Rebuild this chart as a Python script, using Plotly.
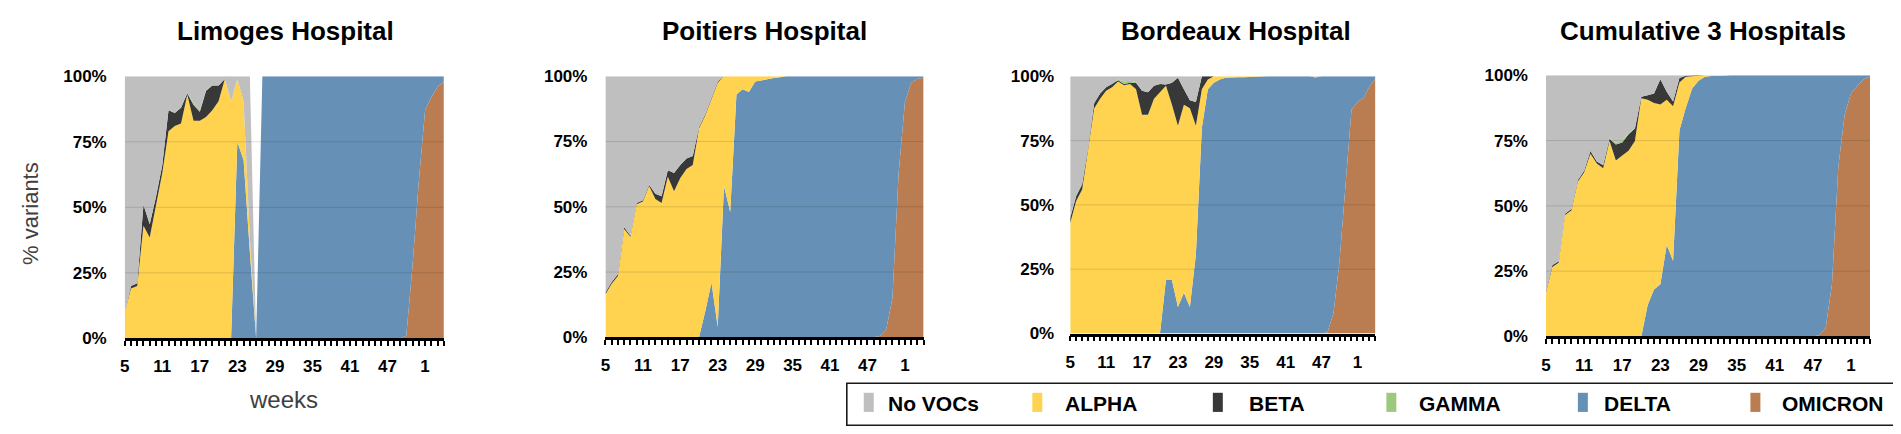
import plotly.graph_objects as go

# ---------------- data ----------------
WEEKS = list(range(5, 53)) + [1, 2, 3, 4]          # ISO weeks 2021 -> 2022
HOSPITALS = ["Limoges Hospital", "Poitiers Hospital", "Bordeaux Hospital", "Cumulative 3 Hospitals"]
VARIANTS = ["No VOCs", "ALPHA", "BETA", "GAMMA", "DELTA", "OMICRON"]
Y_TICKS = [0, 25, 50, 75, 100]
Y_TICK_LABELS = ["0%", "25%", "50%", "75%", "100%"]

# Limoges (% of sequenced samples per week)
LIM_NOVOC = [90.2, 80, 79, 49, 56.5, 46, 34, 13, 14, 12, 6.5, 10.2, 13, 5.2, 3.5, 3.5, 1, 9.5, 1, 9.5,
             62, 0, 0, 0, 0, 0, 0, 0, 0, 0, 0, 0, 0, 0, 0, 0, 0, 0, 0, 0,
             0, 0, 0, 0, 0, 0, 0, 0, 0, 0, 0, 0]
LIM_ALPHA = [9.8, 19, 20, 43, 38.5, 51, 63, 79, 81, 82, 93, 83, 83, 84.5, 87, 90.5, 99, 90.5, 24, 22.5,
             5, 0, 0, 0, 0, 0, 0, 0, 0, 0, 0, 0, 0, 0, 0, 0, 0, 0, 0, 0,
             0, 0, 0, 0, 0, 0, 0, 0, 0, 0, 0, 0]
LIM_BETA = [0, 1, 1, 8, 5, 3, 3, 8, 5, 6, 0.5, 6, 3.5, 10, 9.5, 6, 0, 0, 0, 0,
            0, 0, 0, 0, 0, 0, 0, 0, 0, 0, 0, 0, 0, 0, 0, 0, 0, 0, 0, 0,
            0, 0, 0, 0, 0, 0, 0, 0, 0, 0, 0, 0]
LIM_GAMMA = [0, 0, 0, 0, 0, 0, 0, 0, 0, 0, 0, 0.8, 0.5, 0.3, 0, 0, 0, 0, 0, 0,
             0, 0, 0, 0, 0, 0, 0, 0, 0, 0, 0, 0, 0, 0, 0, 0, 0, 0, 0, 0,
             0, 0, 0, 0, 0, 0, 0, 0, 0, 0, 0, 0]
LIM_DELTA = [0, 0, 0, 0, 0, 0, 0, 0, 0, 0, 0, 0, 0, 0, 0, 0, 0, 0, 75, 68,
             33, 0, 100, 100, 100, 100, 100, 100, 100, 100, 100, 100, 100, 100, 100, 100, 100, 100, 100, 100,
             100, 100, 100, 100, 100, 99, 72, 40, 13, 8, 4, 2]
LIM_OMICRON = [0, 0, 0, 0, 0, 0, 0, 0, 0, 0, 0, 0, 0, 0, 0, 0, 0, 0, 0, 0,
               0, 0, 0, 0, 0, 0, 0, 0, 0, 0, 0, 0, 0, 0, 0, 0, 0, 0, 0, 0,
               0, 0, 0, 0, 0, 1, 28, 60, 87, 92, 96, 98]

# Poitiers
POI_NOVOC = [82.8, 78.8, 75.8, 57.8, 61, 48.5, 47.5, 41.5, 45, 46, 36, 37, 34, 31.5, 30.5, 19.5, 14.5, 8.5, 2, 0,
             0, 0, 0, 0, 0, 0, 0, 0, 0, 0, 0, 0, 0, 0, 0, 0, 0, 0, 0, 0,
             0, 0, 0, 0, 0, 0, 0, 0, 0, 0, 0, 0]
POI_ALPHA = [16.5, 20.5, 23.5, 41.5, 38.5, 51, 52, 58, 53, 51.5, 61.5, 56, 61, 64.5, 66, 80, 75, 70, 93.5, 42,
             52, 7, 5, 6, 2, 1.5, 1, 0.7, 0.4, 0, 0, 0, 0, 0, 0, 0, 0, 0, 0, 0,
             0, 0, 0, 0, 0, 0, 0, 0, 0, 0, 0, 0]
POI_BETA = [0.7, 0.7, 0.7, 0.7, 0.5, 0.5, 0.5, 0.5, 2, 2.5, 2.5, 7, 5, 4, 3.5, 0.5, 0.5, 0.5, 0.5, 0,
            0, 0, 0, 0, 0, 0, 0, 0, 0, 0, 0, 0, 0, 0, 0, 0, 0, 0, 0, 0,
            0, 0, 0, 0, 0, 0, 0, 0, 0, 0, 0, 0]
POI_GAMMA = [0, 0, 0, 0, 0, 0, 0, 0, 0, 0, 0, 0, 0, 0, 0, 0, 0, 0, 0, 0,
             0, 0, 0, 0, 0, 0, 0, 0, 0, 0, 0, 0, 0, 0, 0, 0, 0, 0, 0, 0,
             0, 0, 0, 0, 0, 0, 0, 0, 0, 0, 0, 0]
POI_DELTA = [0, 0, 0, 0, 0, 0, 0, 0, 0, 0, 0, 0, 0, 0, 0, 0, 10, 21, 4, 58,
             48, 93, 95, 94, 98, 98.5, 99, 99.3, 99.6, 100, 100, 100, 100, 100, 100, 100, 100, 100, 100, 100,
             100, 100, 100, 100, 99.5, 97, 85, 37, 10, 2.5, 1, 0.5]
POI_OMICRON = [0, 0, 0, 0, 0, 0, 0, 0, 0, 0, 0, 0, 0, 0, 0, 0, 0, 0, 0, 0,
               0, 0, 0, 0, 0, 0, 0, 0, 0, 0, 0, 0, 0, 0, 0, 0, 0, 0, 0, 0,
               0, 0, 0, 0, 0.5, 3, 15, 63, 90, 97.5, 99, 99.5]

# Bordeaux
BOR_NOVOC = [55, 46.5, 42, 27.5, 10.5, 6.7, 4.3, 3, 1.2, 2, 1.7, 2.2, 5.6, 6.2, 3.7, 3, 3.2, 2.5, 0.6, 5,
             9.3, 10, 0, 0, 0, 0, 0, 0, 0, 0, 0, 0, 0, 0, 0, 0, 0, 0, 0, 0,
             0, 0.5, 0, 0, 0, 0, 0, 0, 0, 0, 0, 0]
BOR_ALPHA = [43, 51.5, 56, 71.5, 87.5, 91.3, 94.4, 95.7, 98, 96.5, 97, 95, 85, 85, 91.3, 93.8, 75.3, 68.1, 70.5, 73.1,
             77.3, 50.1, 15, 3.8, 2.5, 1.2, 0.6, 0.4, 0.4, 0.4, 0.3, 0, 0, 0, 0, 0, 0, 0, 0, 0,
             0, 0, 0, 0, 0, 0, 0, 0, 0, 0, 0, 0]
BOR_BETA = [2, 2, 2, 1, 2, 2, 1.3, 1.3, 0.5, 0.5, 0.5, 2.5, 9.4, 8.8, 5, 3.2, 0.5, 8.6, 18.6, 6.1,
            3.1, 9.2, 5, 1.2, 0, 0, 0, 0, 0, 0, 0, 0, 0, 0, 0, 0, 0, 0, 0, 0,
            0, 0, 0, 0, 0, 0, 0, 0, 0, 0, 0, 0]
BOR_GAMMA = [0, 0, 0, 0, 0, 0, 0, 0, 0.3, 1, 0.8, 0.3, 0, 0, 0, 0, 0, 0, 0, 0,
             0, 0, 0, 0, 0, 0, 0, 0, 0, 0, 0, 0, 0, 0, 0, 0, 0, 0, 0, 0,
             0, 0, 0, 0, 0, 0, 0, 0, 0, 0, 0, 0]
BOR_DELTA = [0, 0, 0, 0, 0, 0, 0, 0, 0, 0, 0, 0, 0, 0, 0, 0, 21, 20.8, 10.3, 15.8,
             10.3, 30.7, 80, 95, 97.5, 98.8, 99.4, 99.6, 99.6, 99.6, 99.7, 100, 100, 100, 100, 100, 100, 100, 100, 100,
             100, 99.5, 100, 99.5, 92, 72, 42, 13, 10, 8.5, 4, 1]
BOR_OMICRON = [0, 0, 0, 0, 0, 0, 0, 0, 0, 0, 0, 0, 0, 0, 0, 0, 0, 0, 0, 0,
               0, 0, 0, 0, 0, 0, 0, 0, 0, 0, 0, 0, 0, 0, 0, 0, 0, 0, 0, 0,
               0, 0, 0, 0.5, 8, 28, 58, 87, 90, 91.5, 96, 99]

# Cumulative 3 hospitals
CUM_NOVOC = [82.7, 72.8, 71.2, 53, 51.2, 40.2, 36.6, 29, 33, 34.4, 24, 25.9, 24.9, 22.2, 20.4, 8.2, 7.6, 7, 1.5, 6.3,
             10, 1, 0.2, 0, 0, 0, 0, 0, 0, 0, 0, 0, 0, 0, 0, 0, 0, 0, 0, 0,
             0, 0, 0, 0, 0, 0, 0, 0, 0, 0, 0, 0]
CUM_ALPHA = [16.8, 26.6, 28.2, 46.5, 48.2, 59.2, 62.8, 70, 66.2, 64.4, 74.8, 67.4, 69.3, 71.1, 74.8, 91.2, 78.6, 71.4, 68.8, 55.6,
             59.2, 18.3, 11.9, 4.7, 2.1, 0.5, 0.3, 0.3, 0.2, 0, 0, 0, 0, 0, 0, 0, 0, 0, 0, 0,
             0, 0, 0, 0, 0, 0, 0, 0, 0, 0, 0, 0]
CUM_BETA = [0.5, 0.6, 0.6, 0.5, 0.6, 0.6, 0.6, 1, 0.8, 1.2, 0.9, 6.1, 5, 6.3, 4.8, 0.6, 1.8, 3.6, 9.7, 3.1,
            1.8, 1.7, 0.3, 0.3, 0, 0, 0, 0, 0, 0, 0, 0, 0, 0, 0, 0, 0, 0, 0, 0,
            0, 0, 0, 0, 0, 0, 0, 0, 0, 0, 0, 0]
CUM_GAMMA = [0, 0, 0, 0, 0, 0, 0, 0, 0, 0, 0.3, 0.6, 0.8, 0.4, 0, 0, 0, 0, 0, 0,
             0, 0, 0, 0, 0, 0, 0, 0, 0, 0, 0, 0, 0, 0, 0, 0, 0, 0, 0, 0,
             0, 0, 0, 0, 0, 0, 0, 0, 0, 0, 0, 0]
CUM_DELTA = [0, 0, 0, 0, 0, 0, 0, 0, 0, 0, 0, 0, 0, 0, 0, 0, 12, 18, 20, 35,
             29, 79, 87.6, 95, 97.9, 99.5, 99.7, 99.7, 99.8, 100, 100, 100, 100, 100, 100, 100, 100, 100, 100, 100,
             100, 100, 100, 99.5, 97, 80, 35, 15, 7, 4, 1.5, 0.5]
CUM_OMICRON = [0, 0, 0, 0, 0, 0, 0, 0, 0, 0, 0, 0, 0, 0, 0, 0, 0, 0, 0, 0,
               0, 0, 0, 0, 0, 0, 0, 0, 0, 0, 0, 0, 0, 0, 0, 0, 0, 0, 0, 0,
               0, 0, 0, 0.5, 3, 20, 65, 85, 93, 96, 98.5, 99.5]

PANEL_DATA = [
    {"No VOCs": LIM_NOVOC, "ALPHA": LIM_ALPHA, "BETA": LIM_BETA, "GAMMA": LIM_GAMMA, "DELTA": LIM_DELTA, "OMICRON": LIM_OMICRON},
    {"No VOCs": POI_NOVOC, "ALPHA": POI_ALPHA, "BETA": POI_BETA, "GAMMA": POI_GAMMA, "DELTA": POI_DELTA, "OMICRON": POI_OMICRON},
    {"No VOCs": BOR_NOVOC, "ALPHA": BOR_ALPHA, "BETA": BOR_BETA, "GAMMA": BOR_GAMMA, "DELTA": BOR_DELTA, "OMICRON": BOR_OMICRON},
    {"No VOCs": CUM_NOVOC, "ALPHA": CUM_ALPHA, "BETA": CUM_BETA, "GAMMA": CUM_GAMMA, "DELTA": CUM_DELTA, "OMICRON": CUM_OMICRON},
]

# ---------------- style ----------------
W, H = 1901, 434
FONT = "Liberation Sans, Arial, sans-serif"
COLORS = {"No VOCs": "#BFBFBF", "ALPHA": "#FFD350", "BETA": "#383838",
          "GAMMA": "#9DC97F", "DELTA": "#6790B6", "OMICRON": "#BA7D51"}
STACK_ORDER = ["OMICRON", "DELTA", "ALPHA", "BETA", "GAMMA", "No VOCs"]   # bottom -> top

# plot rectangles in pixels (left, right, top, bottom), title centre, y-label standoff
GEOM = [
    (112, 432, 62, 336, 273, 17),
    (594, 913, 62, 335, 753, 17),
    (1060, 1366, 62, 331, 1226, 15),
    (1537, 1862, 61, 334, 1694, 17),
]

def px(x):
    return x / W

def py(y):
    return 1 - y / H

idx = list(range(len(WEEKS)))
tickvals = idx[::6]
ticktext = [str(WEEKS[i]) for i in tickvals]

fig = go.Figure()
layout = dict(width=W, height=H, margin=dict(l=0, r=0, t=0, b=0),
              paper_bgcolor="white", plot_bgcolor="white", showlegend=False,
              font=dict(family=FONT, color="black"))
shapes = []
annotations = []

for k, (title, data, geom) in enumerate(zip(HOSPITALS, PANEL_DATA, GEOM), start=1):
    x0, x1, y0, y1, tx, ystand = geom
    xa = "x" if k == 1 else f"x{k}"
    ya = "y" if k == 1 else f"y{k}"
    for name in STACK_ORDER:
        fig.add_trace(go.Scatter(
            x=idx, y=data[name], name=name, stackgroup=f"s{k}",
            mode="lines", line=dict(width=0, color=COLORS[name]),
            fillcolor=COLORS[name], xaxis=xa, yaxis=ya, hoverinfo="skip"))
    layout["xaxis" if k == 1 else f"xaxis{k}"] = dict(
        domain=[px(x0), px(x1)], anchor=ya, range=[0, len(idx) - 1],
        showgrid=False, zeroline=False, showline=True, linecolor="black", linewidth=2.5,
        tickmode="array", tickvals=tickvals, ticktext=ticktext,
        ticks="outside", ticklen=5, tickwidth=1.5, tickcolor="black",
        minor=dict(tickmode="linear", tick0=0, dtick=1, ticks="outside",
                   ticklen=5, tickwidth=1.5, tickcolor="black"),
        tickfont=dict(family=FONT, size=17, color="black", weight="bold"),
        ticklabelstandoff=6, fixedrange=True)
    layout["yaxis" if k == 1 else f"yaxis{k}"] = dict(
        domain=[py(y1), py(y0)], anchor=xa, range=[0, 100],
        showgrid=False, zeroline=False, showline=False, ticks="",
        tickmode="array", tickvals=Y_TICKS, ticktext=Y_TICK_LABELS,
        tickfont=dict(family=FONT, size=17, color="black", weight="bold"),
        ticklabelstandoff=ystand, fixedrange=True)
    for v in Y_TICKS[1:-1]:
        shapes.append(dict(type="line", xref=xa, yref=ya, x0=0, x1=len(idx) - 1, y0=v, y1=v,
                           line=dict(color="rgba(0,0,0,0.13)", width=1), layer="above"))
    annotations.append(dict(text=title, xref="paper", yref="paper", x=px(tx), y=py(15),
                            xanchor="center", yanchor="middle", showarrow=False,
                            font=dict(family=FONT, size=26, color="black", weight="bold")))

annotations.append(dict(text="% variants", xref="paper", yref="paper", x=px(17), y=py(205),
                        xanchor="center", yanchor="middle", textangle=-90, showarrow=False,
                        font=dict(family=FONT, size=22, color="#404040")))
annotations.append(dict(text="weeks", xref="paper", yref="paper", x=px(271), y=py(400),
                        xanchor="center", yanchor="middle", showarrow=False,
                        font=dict(family=FONT, size=24, color="#404040")))

# legend box (drawn by hand to match the thin bar markers)
LEG_BOX = (836, 1891, 383, 427)
LEG_MARK_X = [858, 1027, 1208, 1382, 1574, 1747]
LEG_TEXT_X = [875, 1053, 1237, 1408, 1593, 1772]
shapes.append(dict(type="rect", xref="paper", yref="paper",
                   x0=px(LEG_BOX[0]), x1=px(LEG_BOX[1]), y0=py(LEG_BOX[3]), y1=py(LEG_BOX[2]),
                   line=dict(color="#1a1a1a", width=1.6), fillcolor="rgba(0,0,0,0)"))
for name, mx, tx in zip(VARIANTS, LEG_MARK_X, LEG_TEXT_X):
    shapes.append(dict(type="rect", xref="paper", yref="paper",
                       x0=px(mx - 5), x1=px(mx + 5), y0=py(413), y1=py(393),
                       line=dict(width=0), fillcolor=COLORS[name]))
    annotations.append(dict(text=name, xref="paper", yref="paper", x=px(tx), y=py(404),
                            xanchor="left", yanchor="middle", showarrow=False,
                            font=dict(family=FONT, size=21, color="black", weight="bold")))

layout["shapes"] = shapes
layout["annotations"] = annotations
fig.update_layout(**layout)
fig.write_html("out.html")
